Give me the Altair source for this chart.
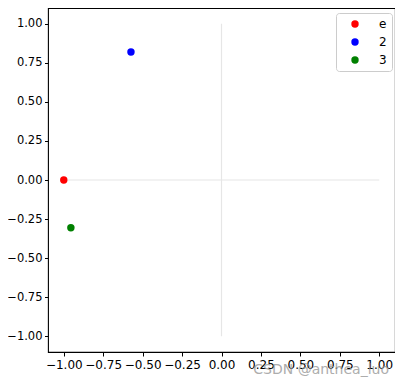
import altair as alt
import pandas as pd

labels = ["e", "2", "3"]
xs = [-1.0, -0.574, -0.955]
ys = [0.0, 0.819, -0.305]
colors = ["#ff0000", "#0000ff", "#008000"]
tick_vals = [-1.0, -0.75, -0.5, -0.25, 0.0, 0.25, 0.5, 0.75, 1.0]
domain = [-1.1, 1.1]

pts = pd.DataFrame({"label": labels, "x": xs, "y": ys})
vline = pd.DataFrame({"x": [0.0], "y": [-1.0], "y2": [1.0]})
hline = pd.DataFrame({"y": [0.0], "x": [-1.0], "x2": [1.0]})
wm = pd.DataFrame({"x": [1.1], "y": [-1.1], "t": ["CSDN @anthea_luo"]})

font = "DejaVu Sans"
xsc = alt.Scale(domain=domain, nice=False, zero=False)
ysc = alt.Scale(domain=domain, nice=False, zero=False)
xax = alt.Axis(values=tick_vals, format=".2f", title=None, grid=False, domain=False,
               tickColor="black", tickSize=4, labelColor="black", labelFontSize=12,
               labelFont=font, labelPadding=3, labelFlush=False)
yax = alt.Axis(values=tick_vals, format=".2f", title=None, grid=False, domain=False,
               tickColor="black", tickSize=3.5, labelColor="black", labelFontSize=11.5,
               labelFont=font, labelPadding=2.5, labelFlush=False)

v = alt.Chart(vline).mark_rule(color="#e6e6e6", strokeWidth=1.2).encode(
    x=alt.X("x:Q", scale=xsc, axis=xax), y=alt.Y("y:Q", scale=ysc, axis=yax), y2="y2:Q")
h = alt.Chart(hline).mark_rule(color="#e6e6e6", strokeWidth=1.2).encode(
    x=alt.X("x:Q", scale=xsc), x2="x2:Q", y=alt.Y("y:Q", scale=ysc))

p = alt.Chart(pts).mark_point(filled=True, shape="circle", size=55, opacity=1).encode(
    x=alt.X("x:Q", scale=xsc),
    y=alt.Y("y:Q", scale=ysc),
    color=alt.Color("label:N", sort=labels,
                    scale=alt.Scale(domain=labels, range=colors),
                    legend=alt.Legend(title=None, orient="none", legendX=288, legendY=5,
                                      padding=5, strokeColor="#cccccc", fillColor="white",
                                      cornerRadius=3, symbolType="circle", symbolSize=55,
                                      symbolOffset=8, labelOffset=18, labelFontSize=12,
                                      labelFont=font, labelColor="black", rowPadding=6,
                                      symbolStrokeWidth=0)),
)

w = alt.Chart(wm).mark_text(align="right", baseline="top", dy=11, dx=-6, fontSize=14,
                            font=font, color="#999999", opacity=0.8).encode(
    x=alt.X("x:Q", scale=xsc), y=alt.Y("y:Q", scale=ysc), text="t:N")

chart = alt.layer(v, h, p, w).properties(
    width=347, height=344,
    autosize=alt.AutoSizeParams(type="none"),
    padding={"left": 40, "top": 0, "right": 0, "bottom": 26},
).configure_view(stroke="black", strokeWidth=1.1)

chart.save("out.html", embed_options={"renderer": "svg", "actions": False})
